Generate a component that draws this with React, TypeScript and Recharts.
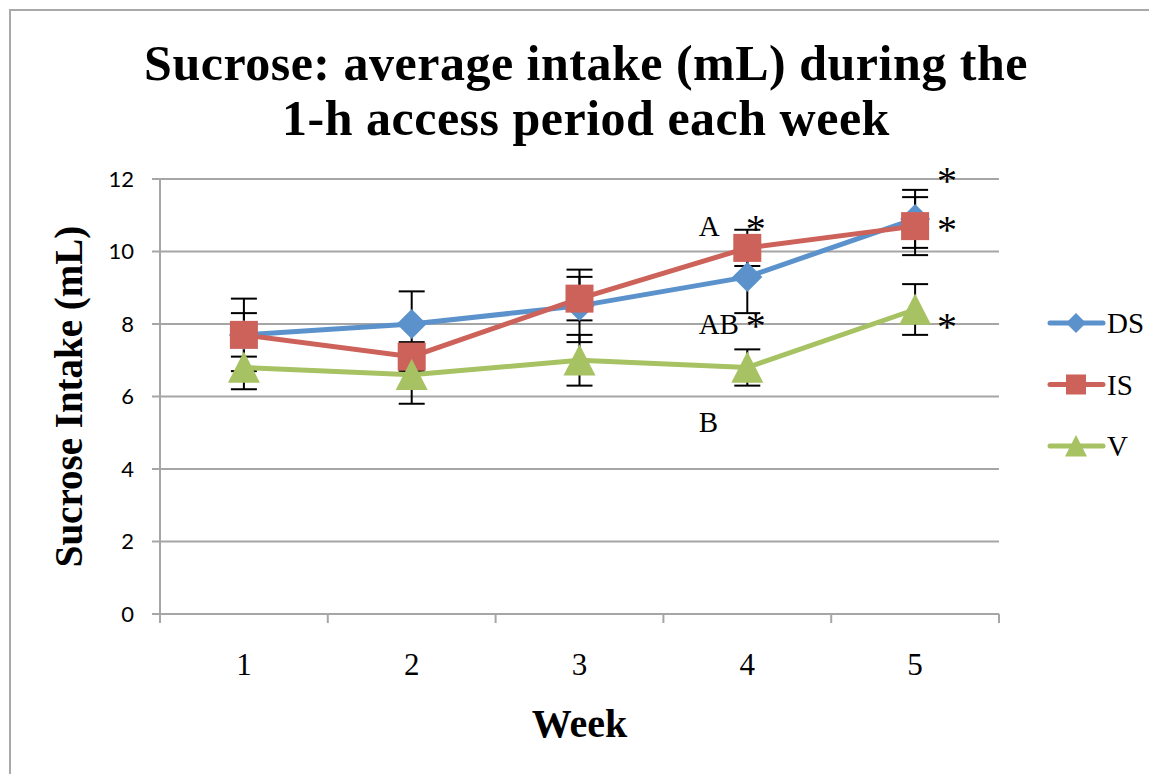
import React from "react";
import {
  ComposedChart,
  Line,
  XAxis,
  YAxis,
  CartesianGrid,
  ErrorBar,
  ReferenceDot,
  Label,
} from "recharts";

const weeks = [1, 2, 3, 4, 5];
const dsValues = [7.7, 8.0, 8.5, 9.3, 10.9];
const dsErrors = [0.6, 0.9, 1.0, 1.0, 0.8];
const isValues = [7.7, 7.1, 8.7, 10.1, 10.7];
const isErrors = [1.0, 0.4, 0.6, 0.5, 0.8];
const vValues = [6.8, 6.6, 7.0, 6.8, 8.4];
const vErrors = [0.6, 0.8, 0.7, 0.5, 0.7];
const yTicks = [0, 2, 4, 6, 8, 10, 12];

// significance letters (baseline) and stars (glyph centre), in data units
const letters = [
  { x: 3.71, y: 10.43, text: "A" },
  { x: 3.71, y: 7.72, text: "AB" },
  { x: 3.71, y: 5.02, text: "B" },
];
const stars = [
  { x: 4.05, y: 10.79 },
  { x: 4.05, y: 8.1 },
  { x: 5.19, y: 12.11 },
  { x: 5.19, y: 10.77 },
  { x: 5.19, y: 8.08 },
];

const BLUE = "#5B92CC";
const RED = "#CC625A";
const GREEN = "#A6C262";
const GRID = "#A6A6A6";
const SERIF = "'Liberation Serif', 'DejaVu Serif', serif";

const data = weeks.map((week, i) => ({
  week,
  ds: dsValues[i],
  dsErr: dsErrors[i],
  is: isValues[i],
  isErr: isErrors[i],
  v: vValues[i],
  vErr: vErrors[i],
}));

// category boundaries get tick marks, category centres get labels
const edges = [...weeks.map((w) => w - 0.5), weeks[weeks.length - 1] + 0.5];
const xTicks = [...edges, ...weeks].sort((a, b) => a - b);

function Diamond({ cx, cy, r, fill }: any) {
  return <path d={`M${cx},${cy - r}L${cx + r},${cy}L${cx},${cy + r}L${cx - r},${cy}Z`} fill={fill} />;
}
function Square({ cx, cy, r, fill }: any) {
  return <rect x={cx - r} y={cy - r} width={r * 2} height={r * 2} fill={fill} />;
}
function Triangle({ cx, cy, r, fill }: any) {
  return <path d={`M${cx},${cy - r}L${cx + r},${cy + r * 0.95}L${cx - r},${cy + r * 0.95}Z`} fill={fill} />;
}

const legendItems = [
  { name: "DS", color: BLUE, Shape: Diamond, r: 10 },
  { name: "IS", color: RED, Shape: Square, r: 10 },
  { name: "V", color: GREEN, Shape: Triangle, r: 11 },
];

function XTick({ x, y, payload }: any) {
  const v = payload.value;
  if (!Number.isInteger(v)) {
    return <line x1={x} x2={x} y1={y} y2={y + 9} stroke={GRID} strokeWidth={2} />;
  }
  return (
    <text x={x} y={y + 61} textAnchor="middle" fontFamily={SERIF} fontSize={31} fill="#000">
      {v}
    </text>
  );
}

function ChartLegend() {
  return (
    <svg width={101} height={180}>
      {legendItems.map((item, i) => {
        const y = 23 + i * 61.5;
        return (
          <g key={item.name}>
            <line x1={3} x2={56} y1={y} y2={y} stroke={item.color} strokeWidth={5} strokeLinecap="round" />
            <item.Shape cx={29} cy={y} r={item.r} fill={item.color} />
            <text x={60} y={y + 10} fontFamily={SERIF} fontSize={29} fill="#000">
              {item.name}
            </text>
          </g>
        );
      })}
    </svg>
  );
}

export default function App() {
  return (
    <div
      style={{
        position: "absolute",
        left: 0,
        top: 0,
        width: 1149,
        height: 774,
        overflow: "hidden",
        background: "#fff",
      }}
    >
      <div
        style={{
          position: "absolute",
          left: 9,
          top: 9,
          width: 1300,
          height: 900,
          border: "2px solid #A9A9A9",
        }}
      />
      <div
        style={{
          position: "absolute",
          left: 0,
          top: 36,
          width: 1172,
          textAlign: "center",
          fontFamily: SERIF,
          fontWeight: "bold",
          fontSize: 50,
          letterSpacing: 0.5,
          lineHeight: "55px",
          color: "#000",
        }}
      >
        Sucrose: average intake (mL) during the
        <br />
        1-h access period each week
      </div>
      <div style={{ position: "absolute", left: 0, top: 0 }}>
        <ComposedChart
          width={1149}
          height={774}
          data={data}
          margin={{ top: 179, right: 150, bottom: 100, left: 100 }}
        >
          <CartesianGrid xAxisId="w" vertical={false} stroke={GRID} strokeWidth={2} />
          <XAxis
            xAxisId="w"
            type="number"
            dataKey="week"
            domain={[0.5, 5.5]}
            ticks={xTicks}
            interval={0}
            height={60}
            tickLine={false}
            tickSize={0}
            tickMargin={0}
            axisLine={{ stroke: GRID, strokeWidth: 2 }}
            tick={<XTick />}
          >
            <Label
              content={({ viewBox }: any) => (
                <text
                  x={viewBox.x + viewBox.width / 2}
                  y={737}
                  textAnchor="middle"
                  fontFamily={SERIF}
                  fontWeight="bold"
                  fontSize={40}
                  fill="#000"
                >
                  Week
                </text>
              )}
            />
          </XAxis>
          <YAxis
            type="number"
            domain={[0, 12]}
            ticks={yTicks}
            interval={0}
            width={60}
            tickSize={8}
            tickMargin={18}
            tickLine={{ stroke: GRID, strokeWidth: 2 }}
            axisLine={{ stroke: GRID, strokeWidth: 2 }}
            tick={{ fontFamily: "Lato, 'Open Sans', sans-serif", fontSize: 22, fill: "#000" }}
          >
            <Label
              content={({ viewBox }: any) => {
                const cy = viewBox.y + viewBox.height / 2;
                return (
                  <text
                    x={82}
                    y={cy}
                    transform={`rotate(-90 82 ${cy})`}
                    textAnchor="middle"
                    fontFamily={SERIF}
                    fontWeight="bold"
                    fontSize={39}
                    fill="#000"
                  >
                    Sucrose Intake (mL)
                  </text>
                );
              }}
            />
          </YAxis>
          <Line
            xAxisId="w"
            dataKey="ds"
            name="DS"
            stroke={BLUE}
            strokeWidth={5}
            isAnimationActive={false}
            dot={(p: any) => <Diamond key={`ds-${p.index}`} cx={p.cx} cy={p.cy} r={15} fill={BLUE} />}
            activeDot={false}
          >
            <ErrorBar dataKey="dsErr" direction="y" width={13} stroke="#000" strokeWidth={2} />
          </Line>
          <Line
            xAxisId="w"
            dataKey="is"
            name="IS"
            stroke={RED}
            strokeWidth={5}
            isAnimationActive={false}
            dot={(p: any) => <Square key={`is-${p.index}`} cx={p.cx} cy={p.cy} r={14} fill={RED} />}
            activeDot={false}
          >
            <ErrorBar dataKey="isErr" direction="y" width={13} stroke="#000" strokeWidth={2} />
          </Line>
          <Line
            xAxisId="w"
            dataKey="v"
            name="V"
            stroke={GREEN}
            strokeWidth={5}
            isAnimationActive={false}
            dot={(p: any) => <Triangle key={`v-${p.index}`} cx={p.cx} cy={p.cy} r={16} fill={GREEN} />}
            activeDot={false}
          >
            <ErrorBar dataKey="vErr" direction="y" width={13} stroke="#000" strokeWidth={2} />
          </Line>
          {letters.map((n, i) => (
            <ReferenceDot
              key={`l${i}`}
              xAxisId="w"
              x={n.x}
              y={n.y}
              r={0}
              ifOverflow="visible"
              shape={(p: any) => (
                <text x={p.cx} y={p.cy} textAnchor="start" fontFamily={SERIF} fontSize={29} fill="#000">
                  {n.text}
                </text>
              )}
            />
          ))}
          {stars.map((n, i) => (
            <ReferenceDot
              key={`s${i}`}
              xAxisId="w"
              x={n.x}
              y={n.y}
              r={0}
              ifOverflow="visible"
              shape={(p: any) => (
                <text x={p.cx} y={p.cy + 19} textAnchor="middle" fontFamily={SERIF} fontSize={40} fill="#000">
                  *
                </text>
              )}
            />
          ))}
        </ComposedChart>
      </div>
      <div style={{ position: "absolute", left: 1047, top: 300 }}>
        <ChartLegend />
      </div>
    </div>
  );
}
